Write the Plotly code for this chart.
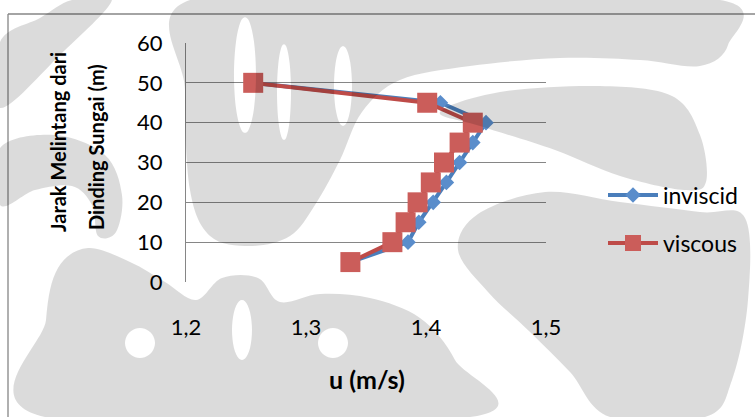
import math
import plotly.graph_objects as go

# Jarak melintang dari dinding sungai (m)
jarak = [5, 10, 15, 20, 25, 30, 35, 40, 45, 50]

# Kecepatan u (m/s)
u_inviscid = [1.337, 1.385, 1.394, 1.406, 1.417, 1.428, 1.439, 1.450, 1.412, 1.256]
u_viscous = [1.337, 1.372, 1.383, 1.393, 1.404, 1.415, 1.428, 1.439, 1.401, 1.256]

x_ticks = [1.2, 1.3, 1.4, 1.5]
x_ticktext = ["1,2", "1,3", "1,4", "1,5"]
y_ticks = [0, 10, 20, 30, 40, 50, 60]

BLUE = "#4A7EBB"
RED = "#BE4B48"
FONT = "Lato"

W, H = 755, 417
L, R, T, B = 186, 209, 43, 135


def px(x):
    return (x - L) / (W - L - R)


def py(y):
    return (H - B - y) / (H - T - B)


def smooth_path(pts):
    """Closed Catmull-Rom curve through pixel points, as an SVG path in paper units."""
    n = len(pts)
    P = [(px(x), py(y)) for x, y in pts]
    d = f"M{P[0][0]:.4f},{P[0][1]:.4f}"
    for i in range(n):
        p0, p1, p2, p3 = P[(i - 1) % n], P[i], P[(i + 1) % n], P[(i + 2) % n]
        c1 = (p1[0] + (p2[0] - p0[0]) / 6, p1[1] + (p2[1] - p0[1]) / 6)
        c2 = (p2[0] - (p3[0] - p1[0]) / 6, p2[1] - (p3[1] - p1[1]) / 6)
        d += f" C{c1[0]:.4f},{c1[1]:.4f} {c2[0]:.4f},{c2[1]:.4f} {p2[0]:.4f},{p2[1]:.4f}"
    return d + " Z"


def ellipse_pts(cx, cy, rx, ry, n=10):
    # reversed winding so the ellipse cuts a hole in its parent shape
    pts = [(cx + rx * math.cos(2 * math.pi * k / n), cy + ry * math.sin(2 * math.pi * k / n))
           for k in range(n)]
    return pts[::-1]


fig = go.Figure()
fig.add_trace(go.Scatter(
    x=u_inviscid, y=jarak, name="inviscid", mode="lines+markers",
    line=dict(color=BLUE, width=4),
    marker=dict(symbol="diamond", size=12, color="#5A8DCB", line=dict(width=0)),
    legend="legend",
))
fig.add_trace(go.Scatter(
    x=u_viscous, y=jarak, name="viscous", mode="lines+markers",
    line=dict(color=RED, width=4),
    marker=dict(symbol="square", size=20, color="#CB5D5A", line=dict(width=0)),
    legend="legend2",
))

fig.update_layout(
    width=W, height=H,
    margin=dict(l=L, r=R, t=T, b=B, pad=0),
    paper_bgcolor="white", plot_bgcolor="white",
    font=dict(family=FONT, size=22, color="#000000"),
    showlegend=True,
    legend=dict(x=px(603), y=py(195), xanchor="left", yanchor="middle",
                itemwidth=50, bgcolor="rgba(0,0,0,0)", font=dict(size=23)),
    legend2=dict(x=px(603), y=py(243), xanchor="left", yanchor="middle",
                 itemwidth=50, bgcolor="rgba(0,0,0,0)", font=dict(size=23)),
    xaxis=dict(range=[1.2, 1.5], tickvals=x_ticks, ticktext=x_ticktext,
               showgrid=False, zeroline=False, showline=False,
               ticks="", ticklabelstandoff=30, fixedrange=True),
    yaxis=dict(range=[0, 60], tickvals=y_ticks, showgrid=True,
               gridcolor="#868686", gridwidth=1.3, zeroline=False,
               showline=True, linecolor="#868686", linewidth=1.3,
               ticks="", ticklabelstandoff=18, fixedrange=True),
)

# Axis titles
fig.add_annotation(
    x=px(58), y=py(142), xref="paper", yref="paper",
    text="<b>Jarak Melintang dari</b>", textangle=-90, showarrow=False,
    font=dict(size=20), xanchor="center", yanchor="middle",
)
fig.add_annotation(
    x=px(96), y=py(147), xref="paper", yref="paper",
    text="<b>Dinding Sungai (m)</b>", textangle=-90, showarrow=False,
    font=dict(size=20), xanchor="center", yanchor="middle",
)
fig.add_annotation(
    x=px(367), y=py(379), xref="paper", yref="paper",
    text="<b>u (m/s)</b>", showarrow=False,
    font=dict(size=25), xanchor="center", yanchor="middle",
)

# Chart area border
fig.add_shape(type="line", xref="paper", yref="paper",
              x0=px(8), y0=py(14), x1=px(760), y1=py(14),
              line=dict(color="#868686", width=1.3))
fig.add_shape(type="line", xref="paper", yref="paper",
              x0=px(8), y0=py(14), x1=px(8), y1=py(420),
              line=dict(color="#868686", width=1.3))

# Faint background emblem, laid over the page like a translucent stamp
emblem = [
    # upper-left diagonal band
    [(0, 42), (40, 18), (72, 0), (112, 0), (60, 55), (0, 108)],
    # left arm curling behind the axis title
    [(0, 148), (55, 135), (105, 155), (122, 195), (116, 232), (98, 236),
     (92, 205), (72, 186), (35, 190), (0, 205)],
    # crown with its sweep to the upper right
    [(190, 0), (450, 0), (720, 0), (728, 45), (700, 66), (640, 60),
     (560, 58), (470, 66), (400, 80), (362, 112), (340, 160), (315, 205),
     (290, 236), (250, 246), (210, 236), (190, 190), (185, 90)],
    # base of the emblem
    [(45, 417), (46, 320), (58, 268), (88, 248), (130, 262), (165, 282),
     (196, 300), (222, 278), (258, 278), (280, 302), (320, 294), (370, 298),
     (420, 318), (455, 360), (470, 417)],
    # right tongue
    [(440, 112), (500, 92), (600, 86), (672, 96), (700, 135), (706, 182),
     (684, 190), (620, 176), (555, 150), (480, 126)],
    # lower right body
    [(478, 214), (545, 192), (620, 202), (700, 212), (745, 218), (748, 300),
     (732, 380), (705, 417), (610, 417), (570, 372), (530, 332), (488, 292),
     (458, 250)],
]
holes = {
    2: [ellipse_pts(245, 75, 11, 58), ellipse_pts(284, 92, 7, 48),
        ellipse_pts(343, 86, 9, 40)],
    3: [ellipse_pts(140, 343, 15, 15), ellipse_pts(333, 343, 15, 15),
        ellipse_pts(242, 330, 10, 30)],
}

for i, pts in enumerate(emblem):
    path = smooth_path(pts)
    for h in holes.get(i, []):
        path += " " + smooth_path(h)
    fig.add_shape(type="path", xref="paper", yref="paper", path=path,
                  fillcolor="rgba(0,0,0,0.14)", line=dict(width=0), layer="above")

fig.write_html("out.html")
